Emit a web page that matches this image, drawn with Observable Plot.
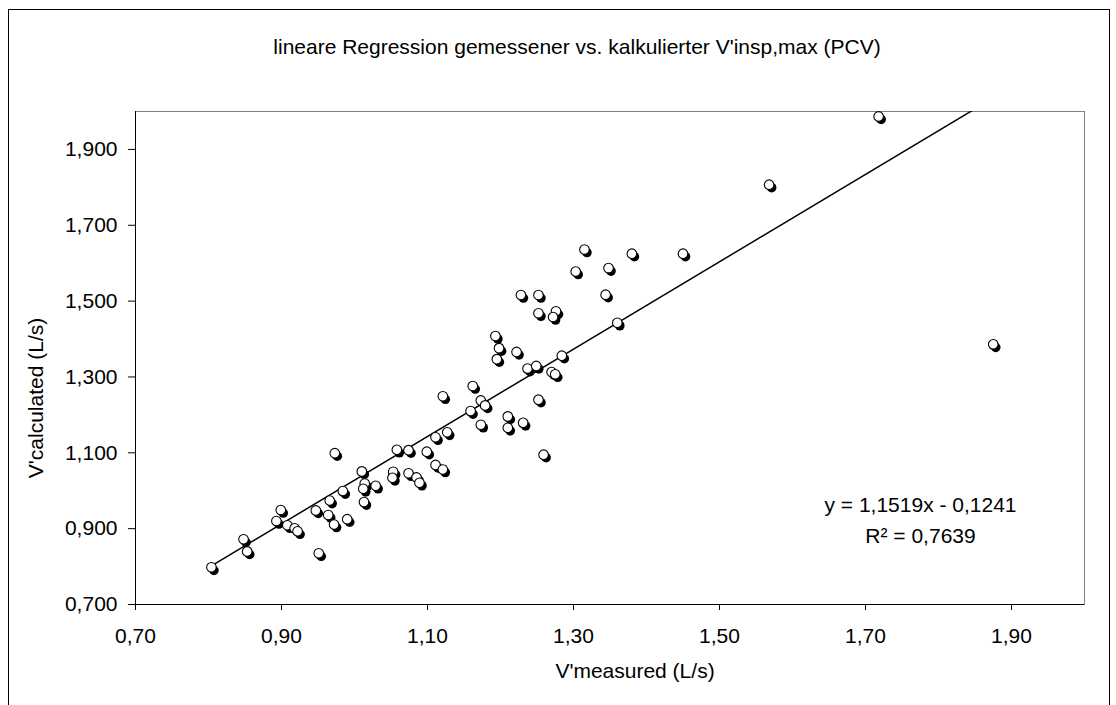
<!DOCTYPE html>
<html><head><meta charset="utf-8">
<script src="https://cdn.jsdelivr.net/npm/d3@7"></script>
<script src="https://cdn.jsdelivr.net/npm/@observablehq/plot@0.6"></script>
<style>
body{margin:0;background:#fff;}
#wrap{position:relative;width:1116px;height:705px;overflow:hidden;background:#fff;}
#border{position:absolute;left:8px;top:9px;width:1102px;height:740px;border:1px solid #000;box-sizing:border-box;}
#chart{position:absolute;left:0;top:0;}
</style></head><body>
<div id="wrap"><div id="border"></div><div id="chart"></div></div>
<script>
const measured = [0.804,0.848,0.853,0.899,0.893,0.908,0.918,0.922,0.951,0.973,
  0.947,0.966,0.964,0.972,0.984,0.990,1.010,1.014,1.012,1.029,
  1.013,1.058,1.074,1.099,1.053,1.052,1.074,1.085,1.089,1.111,
  1.127,1.111,1.121,1.121,1.162,1.173,1.179,1.159,1.173,1.210,
  1.210,1.231,1.252,1.259,1.193,1.198,1.195,1.222,1.237,1.249,
  1.284,1.270,1.275,1.228,1.252,1.344,1.252,1.276,1.272,1.360,
  1.303,1.348,1.315,1.380,1.450,1.568,1.718,1.875];
const calculated = [0.798,0.872,0.840,0.949,0.920,0.909,0.901,0.893,0.835,1.099,
  0.948,0.974,0.936,0.911,0.999,0.925,1.051,1.019,1.005,1.013,
  0.970,1.108,1.107,1.103,1.050,1.034,1.046,1.035,1.021,1.141,
  1.154,1.068,1.056,1.249,1.276,1.238,1.225,1.210,1.174,1.196,
  1.166,1.179,1.240,1.095,1.408,1.376,1.347,1.366,1.322,1.329,
  1.356,1.313,1.307,1.516,1.516,1.517,1.468,1.473,1.458,1.443,
  1.578,1.587,1.636,1.625,1.625,1.807,1.987,1.386];
const xTicks = [0.7, 0.9, 1.1, 1.3, 1.5, 1.7, 1.9];
const yTicks = [0.7, 0.9, 1.1, 1.3, 1.5, 1.7, 1.9];
const slope = 1.1519, intercept = -0.1241, rSquared = 0.7639;
const titleText = "lineare Regression gemessener vs. kalkulierter V'insp,max (PCV)";
const xLabel = "V'measured (L/s)";
const yLabel = "V'calculated (L/s)";

const comma = (v, n) => v.toFixed(n).replace(".", ",");
const points = measured.map((m, i) => ({x: m, y: calculated[i]}));
const xr = d3.extent(measured);
const fit = xr.map(x => ({x, y: slope * x + intercept}));
const eqText = `y = ${comma(slope,4)}x - ${comma(-intercept,4)}`;
const r2Text = `R\u00B2 = ${comma(rSquared,4)}`;
const F = "Liberation Sans, Arial, sans-serif";
const T = {text: d => d, fontSize: 21, fill: "#000", textAnchor: "middle", lineAnchor: "middle"};

const chart = Plot.plot({
  width: 1116, height: 705,
  marginLeft: 135, marginRight: 32, marginTop: 111, marginBottom: 101,
  x: {domain: [0.7, 2.0]},
  y: {domain: [0.7, 2.0]},
  style: {fontFamily: F, fontSize: "21px", background: "transparent", color: "#000"},
  marks: [
    Plot.frame({stroke: "#808080"}),
    Plot.axisX({ticks: xTicks, tickFormat: d => comma(d, 2), tickSize: 6, tickPadding: 18, label: null, fontSize: 21}),
    Plot.axisY({ticks: yTicks, tickFormat: d => comma(d, 3), tickSize: 7, tickPadding: 11, label: null, fontSize: 21}),
    Plot.ruleX([0.7], {stroke: "#000"}),
    Plot.ruleY([0.7], {stroke: "#000"}),
    Plot.line(fit, {x: "x", y: "y", stroke: "#000", strokeWidth: 1.5, clip: true}),
    Plot.dot(points, {x: "x", y: "y", r: 4.8, fill: "#000", dx: 2.5, dy: 3}),
    Plot.dot(points, {x: "x", y: "y", r: 4.8, fill: "#fff", stroke: "#000", strokeWidth: 1.1}),
    Plot.text([titleText], {...T, frameAnchor: "top", dx: -33, dy: -64}),
    Plot.text([xLabel], {...T, frameAnchor: "bottom", dx: 25, dy: 67}),
    Plot.text([yLabel], {...T, frameAnchor: "left", rotate: -90, dx: -99, dy: 40}),
    Plot.text([eqText], {...T, frameAnchor: "bottom-right", dx: -164, dy: -99}),
    Plot.text([r2Text], {...T, frameAnchor: "bottom-right", dx: -164, dy: -68})
  ]
});
document.getElementById("chart").appendChild(chart);
</script>
</body></html>
